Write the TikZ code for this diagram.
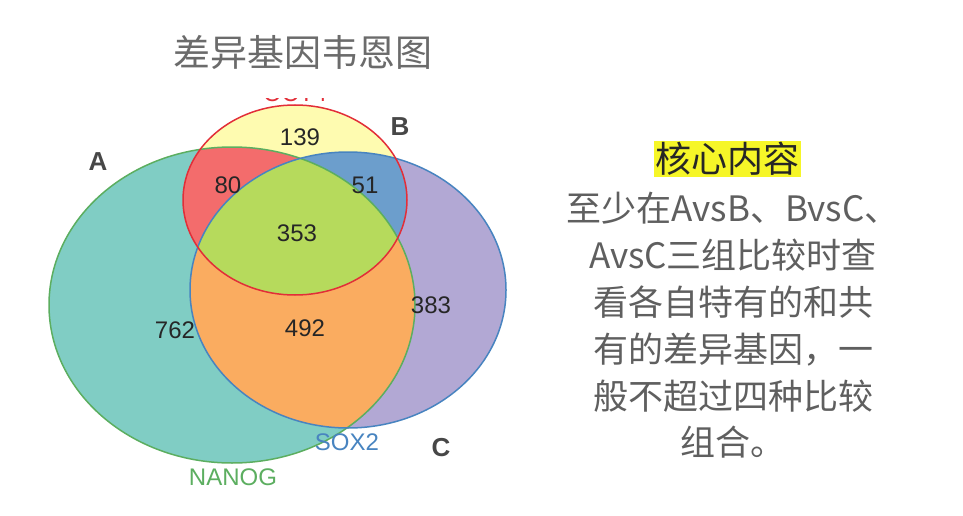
\documentclass[tikz,border=0pt]{standalone}
\usepackage{fontspec}
\usepackage{tikz}
\newfontfamily\cjkfont{Noto Sans CJK SC}
\newfontfamily\labelfont{Liberation Sans}
\definecolor{tealA}{RGB}{128,205,196}
\definecolor{yellowB}{RGB}{254,251,176}
\definecolor{lavenderC}{RGB}{178,168,212}
\definecolor{redAB}{RGB}{243,108,108}
\definecolor{blueBC}{RGB}{108,158,204}
\definecolor{orangeAC}{RGB}{250,172,96}
\definecolor{greenABC}{RGB}{182,218,92}
\definecolor{lineA}{RGB}{92,174,96}
\definecolor{lineB}{RGB}{226,46,56}
\definecolor{lineC}{RGB}{72,132,192}
\definecolor{graytext}{RGB}{95,95,95}
\definecolor{highlight}{RGB}{246,246,40}
\newcommand\setA{(232,305) ellipse [x radius=183, y radius=158]}
\newcommand\setB{(295,200) ellipse [x radius=112, y radius=95]}
\newcommand\setC{(348,290) ellipse [x radius=158, y radius=138]}

\begin{document}
\begin{tikzpicture}[x=1pt, y=-1pt,
  count/.style={font=\labelfont\fontsize{24}{28}\selectfont, text=black!85},
  setname/.style={font=\labelfont\bfseries\fontsize{26}{30}\selectfont, text=black!72},
  genename/.style={font=\labelfont\fontsize{24}{28}\selectfont}]
\useasboundingbox (0,0) rectangle (963,516);
%regions
\fill[tealA] \setA;
\fill[yellowB] \setB;
\fill[lavenderC] \setC;
\begin{scope}
  \clip \setA;
  \fill[redAB] \setB;
  \fill[orangeAC] \setC;
\end{scope}
\begin{scope}
  \clip \setB;
  \fill[blueBC] \setC;
\end{scope}
\begin{scope}
  \clip \setA;
  \clip \setB;
  \fill[greenABC] \setC;
\end{scope}
%outlines
\draw[lineA, line width=1.5pt] \setA;
\draw[lineC, line width=1.5pt] \setC;
\draw[lineB, line width=1.5pt] \setB;
%counts
\node[count] (n139) at (300,137) {139};
\node[count] (n80) at (228,185) {80};
\node[count] (n51) at (365,185) {51};
\node[count] (n353) at (297,233) {353};
\node[count] (n762) at (175,330) {762};
\node[count] (n492) at (305,328) {492};
\node[count] (n383) at (431,305) {383};
\node[setname] (la) at (98,162) {A};
\node[setname] (lb) at (400,127) {B};
\node[setname] (lc) at (441,448) {C};
\node[genename, text=lineC] (sox) at (347,442) {SOX2};
\node[genename, text=lineA] (nanog) at (233,477) {NANOG};
\begin{scope}
  \clip (240,99) rectangle (350,104);
  \node[genename, text=lineB, anchor=base] (oct) at (295,102) {OCT4};
\end{scope}
%texts
\node[font=\cjkfont\fontsize{37}{42}\selectfont, text=black!58] (title) at (303,52) {差异基因韦恩图};
\node[font=\cjkfont\fontsize{36}{40}\selectfont, text=black!85, fill=highlight, inner sep=1.5pt] (core) at (727,159) {核心内容};
\node[font=\cjkfont\fontsize{35}{46.8}\selectfont, text=graytext, align=center, anchor=north] (body) at (733,189)
  {至少在AvsB、BvsC、\\AvsC三组比较时查\\看各自特有的和共\\有的差异基因，一\\般不超过四种比较\\组合。};
\end{tikzpicture}
\end{document}
